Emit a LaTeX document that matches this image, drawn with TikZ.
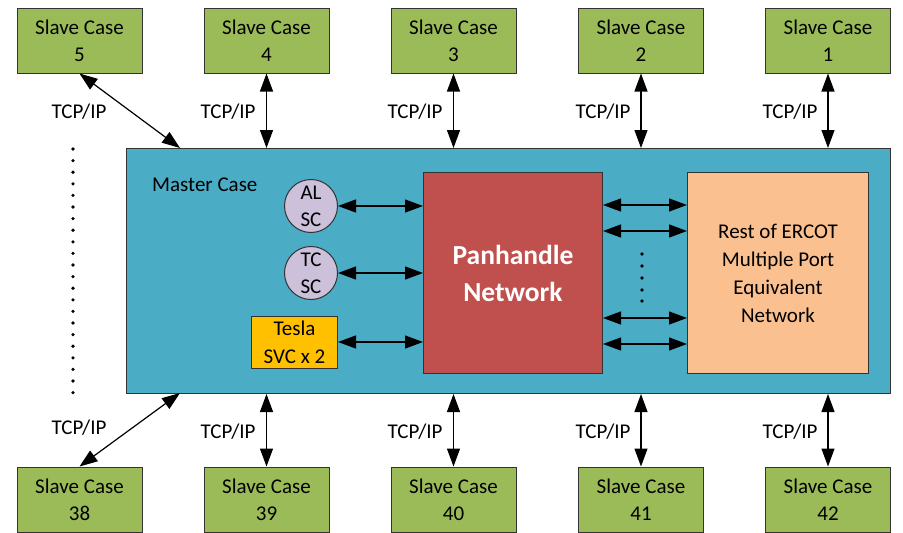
\documentclass[tikz,border=0pt]{standalone}
\usepackage{fontspec}
\setmainfont{Carlito}
\usetikzlibrary{arrows.meta,calc}
\definecolor{slavegreen}{HTML}{9BBB59}
\definecolor{masterblue}{HTML}{4BACC6}
\definecolor{panred}{HTML}{C0504D}
\definecolor{restpeach}{HTML}{FAC090}
\definecolor{circlav}{HTML}{CCC0DA}
\definecolor{teslay}{HTML}{FFC000}
\tikzset{
  txt/.style={font=\fontsize{21}{27}\selectfont, text=black},
  slave/.style={txt, draw=black!80, line width=1pt, fill=slavegreen, minimum width=125pt, minimum height=65pt, inner sep=0pt, align=center},
  comp/.style={txt, draw=black!80, line width=1pt, inner sep=0pt, align=center},
  link/.style={line width=1.2pt, {Triangle[length=18pt,width=13pt]}-{Triangle[length=18pt,width=13pt]}},
  lbl/.style={txt, inner sep=0pt},
  dot/.style={fill=black, draw=none}
}
\begin{document}
\begin{tikzpicture}[x=1pt,y=-1pt]
\useasboundingbox (0,0) rectangle (903,533);
% master
\node[comp, fill=masterblue, minimum width=764pt, minimum height=245pt, anchor=north west] (master) at (126,148) {};
\node[lbl, anchor=west] (mlabel) at (152,185) {Master Case};
% slaves top
\node[slave] (s5) at (79.5,40.5) {Slave Case\\5};
\node[slave] (s4) at (266.5,40.5) {Slave Case\\4};
\node[slave] (s3) at (453.5,40.5) {Slave Case\\3};
\node[slave] (s2) at (641,40.5) {Slave Case\\2};
\node[slave] (s1) at (828,40.5) {Slave Case\\1};
% slaves bottom
\node[slave] (b38) at (79.5,499.5) {Slave Case\\38};
\node[slave] (b39) at (266.5,499.5) {Slave Case\\39};
\node[slave] (b40) at (453.5,499.5) {Slave Case\\40};
\node[slave] (b41) at (641,499.5) {Slave Case\\41};
\node[slave] (b42) at (828,499.5) {Slave Case\\42};
% inner components
\node[comp, fill=panred, minimum width=179pt, minimum height=201pt, anchor=north west,
      font=\bfseries\fontsize{27.5}{37}\selectfont, text=white] (pan) at (423,172) {Panhandle\\Network};
\node[comp, fill=restpeach, minimum width=181pt, minimum height=201pt, anchor=north west,
      font=\fontsize{21}{28}\selectfont] (rest) at (687,172) {Rest of ERCOT\\Multiple Port\\Equivalent\\Network};
\node[comp, circle, fill=circlav, minimum size=53pt] (al) at (311,206) {AL\\SC};
\node[comp, circle, fill=circlav, minimum size=53pt] (tc) at (311,273) {TC\\SC};
\node[comp, fill=teslay, minimum width=86pt, minimum height=52pt, anchor=north west,
      font=\fontsize{21}{28}\selectfont] (tesla) at (251,316) {Tesla\\SVC x 2};
% internal links
\draw[link] (al.east) -- (al.east -| pan.west);
\draw[link] (tc.east) -- (tc.east -| pan.west);
\draw[link] (tesla.east |- 0,342) -- (pan.west |- 0,342);
\foreach \yy in {205,231,318,344}{
  \draw[link] (pan.east |- 0,\yy) -- (rest.west |- 0,\yy);
}
\foreach \yy in {254,266,278,290,301}{
  \fill[dot] (642,\yy) circle (1.8pt);
}
% vertical links top and bottom
\foreach \n in {s4,s3,s2,s1}{
  \draw[link] (\n.south) -- (\n.south |- master.north);
}
\foreach \n in {b39,b40,b41,b42}{
  \draw[link] (\n.north) -- (\n.north |- master.south);
}
\coordinate (mt) at (180,148);
\coordinate (mb) at (180,393);
\draw[link] (s5.south) -- (mt);
\draw[link] (b38.north) -- (mb);
% TCP/IP labels
\node[lbl] (t5) at (79,112) {TCP/IP};
\node[lbl] (t4) at (228,112) {TCP/IP};
\node[lbl] (t3) at (415,112) {TCP/IP};
\node[lbl] (t2) at (603,112) {TCP/IP};
\node[lbl] (t1) at (790,112) {TCP/IP};
\node[lbl] (t38) at (79,428) {TCP/IP};
\node[lbl] (t39) at (228,432) {TCP/IP};
\node[lbl] (t40) at (415,432) {TCP/IP};
\node[lbl] (t41) at (603,432) {TCP/IP};
\node[lbl] (t42) at (790,432) {TCP/IP};
% left dots
\foreach \i in {0,...,21}{
  \fill[dot] (73,{149+\i*11.6}) circle (1.8pt);
}
\end{tikzpicture}
\end{document}
